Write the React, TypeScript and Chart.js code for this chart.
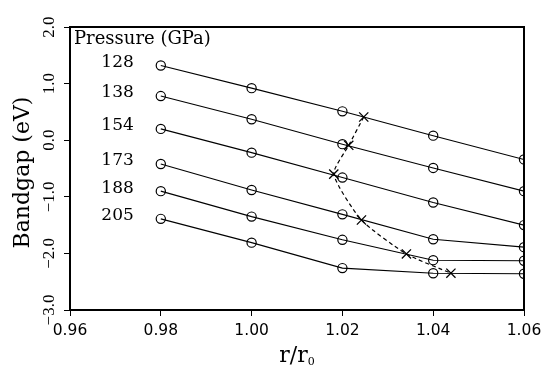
import React, { useEffect, useRef } from "react";
import { Chart, registerables } from "chart.js";

Chart.register(...registerables);

// ---- data ----
const ratios = [0.98, 1.0, 1.02, 1.04, 1.06];
const pressures = ["128", "138", "154", "173", "188", "205"];
const gap128 = [1.32, 0.92, 0.51, 0.08, -0.34];
const gap138 = [0.78, 0.37, -0.07, -0.49, -0.9];
const gap154 = [0.2, -0.22, -0.66, -1.1, -1.5];
const gap173 = [-0.42, -0.88, -1.31, -1.75, -1.89];
const gap188 = [-0.9, -1.35, -1.76, -2.12, -2.13];
const gap205 = [-1.39, -1.81, -2.26, -2.35, -2.36];
const crossRatio = [1.0247, 1.0214, 1.0181, 1.0242, 1.0341, 1.0439];
const crossGap = [0.41, -0.09, -0.6, -1.41, -2.01, -2.35];
const xTicks = [0.96, 0.98, 1.0, 1.02, 1.04, 1.06];
const yTicks = [-3, -2, -1, 0, 1, 2];
const legendTitle = "Pressure (GPa)";
const yTitle = "Bandgap (eV)";

const seriesList = [gap128, gap138, gap154, gap173, gap188, gap205];

const SERIF = '"DejaVu Serif", serif';
const TSERIF = '"Liberation Serif", serif';
const SANS = '"DejaVu Sans", sans-serif';

const textPlugin = {
  id: "textPlugin",
  afterDraw(chart: any) {
    const { ctx, chartArea, scales } = chart;
    const xs = scales.x;
    const ys = scales.y;
    ctx.save();
    // frame
    ctx.strokeStyle = "#000";
    ctx.lineWidth = 2;
    ctx.strokeRect(chartArea.left, chartArea.top, chartArea.right - chartArea.left, chartArea.bottom - chartArea.top);
    ctx.fillStyle = "#000";

    // y tick labels (rotated)
    ctx.font = `17px ${TSERIF}`;
    ctx.textAlign = "center";
    ctx.textBaseline = "middle";
    yTicks.forEach((v) => {
      const py = ys.getPixelForValue(v);
      ctx.save();
      ctx.translate(50, py);
      ctx.rotate(-Math.PI / 2);
      ctx.fillText(v.toFixed(1).replace("-", "\u2212"), 0, 0);
      ctx.restore();
    });

    // y title
    ctx.save();
    ctx.font = `22px ${SERIF}`;
    ctx.translate(23, (chartArea.top + chartArea.bottom) / 2 + 4);
    ctx.rotate(-Math.PI / 2);
    ctx.fillText(yTitle, 0, 0);
    ctx.restore();

    // x tick labels
    ctx.font = `15.5px ${SANS}`;
    ctx.textAlign = "center";
    ctx.textBaseline = "middle";
    xTicks.forEach((v) => {
      ctx.fillText(v.toFixed(2), xs.getPixelForValue(v), 331);
    });

    // x title r/r0
    ctx.font = `22px ${SERIF}`;
    ctx.textBaseline = "alphabetic";
    ctx.textAlign = "left";
    const main = "r/r";
    const w = ctx.measureText(main).width;
    ctx.font = `11px ${SERIF}`;
    const ws = ctx.measureText("0").width;
    const cx = (chartArea.left + chartArea.right) / 2;
    const startX = cx - (w + ws) / 2;
    ctx.font = `22px ${SERIF}`;
    ctx.fillText(main, startX, 362);
    ctx.font = `11px ${SERIF}`;
    ctx.fillText("0", startX + w, 365);

    // legend title
    ctx.font = `18px ${SERIF}`;
    ctx.textAlign = "left";
    ctx.textBaseline = "middle";
    ctx.fillText(legendTitle, chartArea.left + 4, chartArea.top + 12);

    // pressure labels
    ctx.font = `17px ${SERIF}`;
    ctx.textAlign = "right";
    pressures.forEach((p, i) => {
      const py = ys.getPixelForValue(seriesList[i][0]) - 3;
      const px = xs.getPixelForValue(ratios[0]) - 27;
      ctx.fillText(p, px, py);
    });
    ctx.restore();
  },
};

export default function App() {
  const ref = useRef<HTMLCanvasElement | null>(null);
  useEffect(() => {
    if (!ref.current) return;
    const lineSets = seriesList.map((s, i) => ({
      label: pressures[i],
      data: s.map((v, j) => ({ x: ratios[j], y: v })),
      borderColor: "#000",
      borderWidth: 1.1,
      pointStyle: "circle",
      pointRadius: 4.6,
      pointBorderWidth: 1.2,
      pointBorderColor: "#000",
      pointBackgroundColor: "rgba(0,0,0,0)",
      tension: 0,
      fill: false,
    }));
    const crossSet = {
      label: "cross",
      data: crossRatio.map((x, j) => ({ x, y: crossGap[j] })),
      borderColor: "#000",
      borderWidth: 1.2,
      borderDash: [4, 3],
      pointStyle: "crossRot",
      pointRadius: 6.5,
      pointBorderWidth: 1.3,
      pointBorderColor: "#000",
      tension: 0.2,
      fill: false,
    };
    const chart = new Chart(ref.current, {
      type: "line",
      data: { datasets: [...lineSets, crossSet] as any },
      options: {
        responsive: false,
        animation: false,
        layout: { padding: { top: 27, right: 20, left: 0, bottom: 0 } },
        plugins: { legend: { display: false }, tooltip: { enabled: false } },
        scales: {
          x: {
            type: "linear",
            min: 0.96,
            max: 1.06,
            ticks: { stepSize: 0.02, display: false },
            grid: { drawOnChartArea: false, tickLength: 6, color: "#000", lineWidth: 1 },
            border: { display: false },
            afterFit: (s: any) => {
              s.height = 56;
            },
          },
          y: {
            type: "linear",
            min: -3,
            max: 2,
            ticks: { stepSize: 1, display: false },
            grid: { drawOnChartArea: false, tickLength: 6, color: "#000", lineWidth: 1 },
            border: { display: false },
            afterFit: (s: any) => {
              s.width = 70;
            },
          },
        },
      } as any,
      plugins: [textPlugin],
    });
    return () => chart.destroy();
  }, []);
  return (
    <div style={{ position: "absolute", left: 0, top: 0, width: 544, height: 366, background: "#fff" }}>
      <canvas ref={ref} width={544} height={366} />
    </div>
  );
}
